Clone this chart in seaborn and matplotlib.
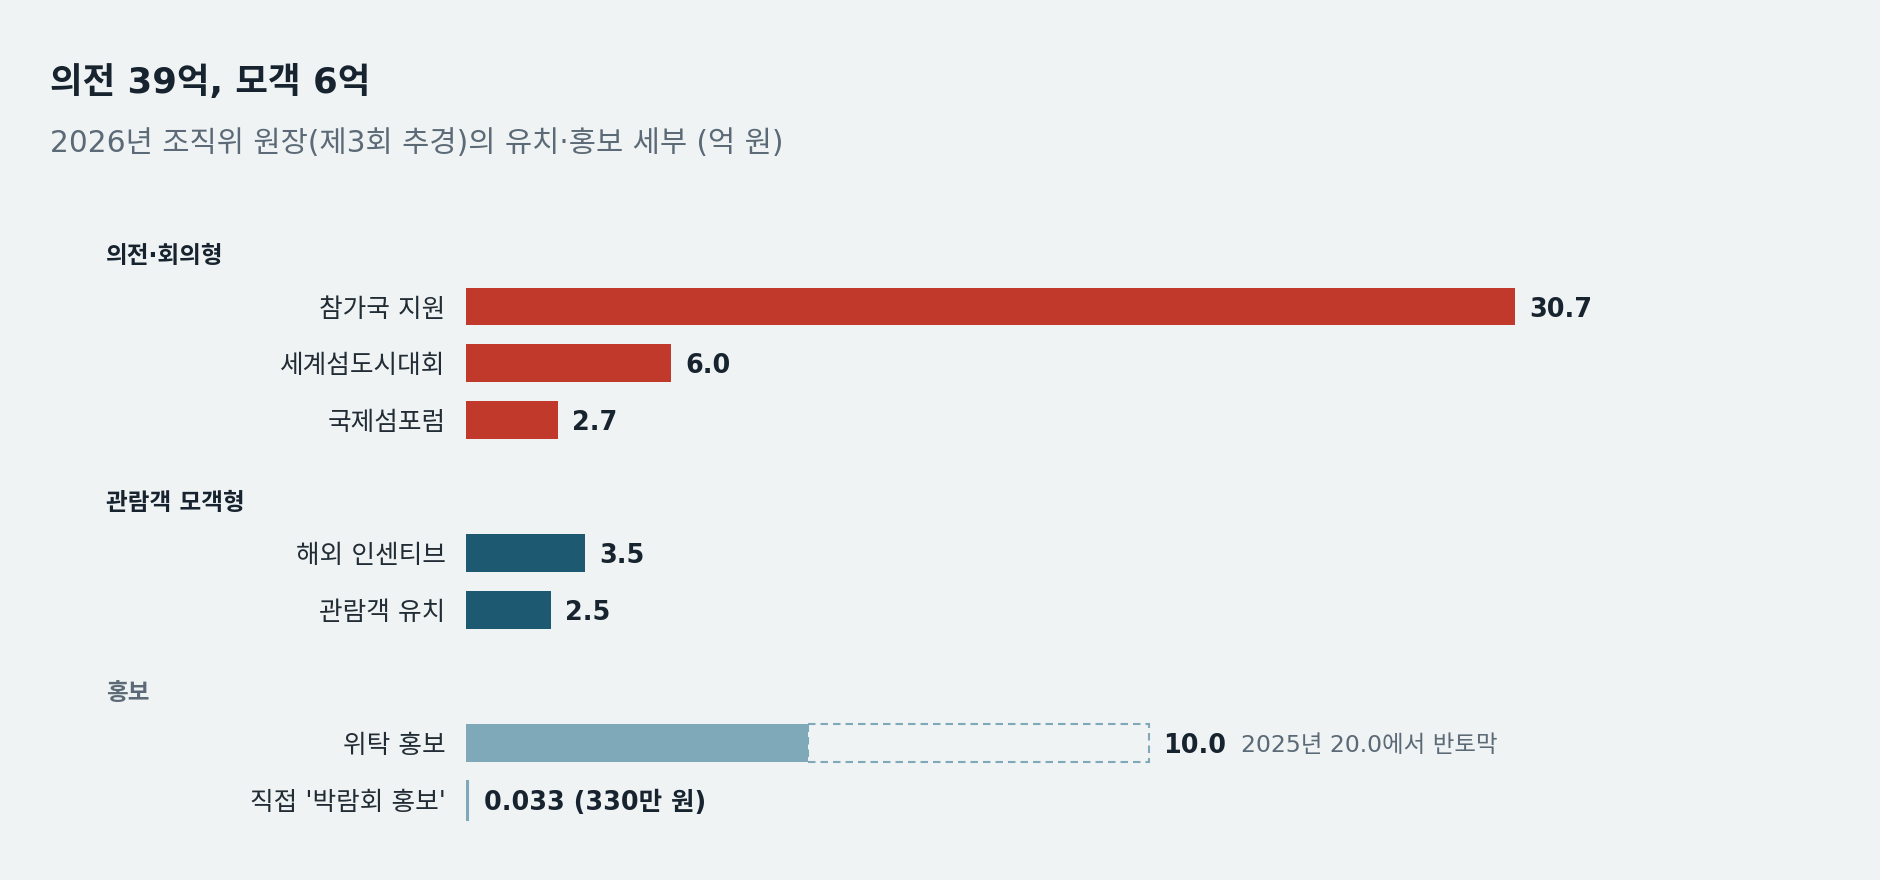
import matplotlib
matplotlib.use("Agg")
import matplotlib.pyplot as plt
import matplotlib.transforms as mtransforms
import seaborn as sns
import pandas as pd

# ---------------- data ----------------
title = "의전 39억, 모객 6억"
subtitle = "2026년 조직위 원장(제3회 추경)의 유치·홍보 세부 (억 원)"

group_names = ["의전·회의형", "관람객 모객형", "홍보"]
labels = ["참가국 지원", "세계섬도시대회", "국제섬포럼",
          "해외 인센티브", "관람객 유치",
          "위탁 홍보", "직접 '박람회 홍보'"]
values = [30.7, 6.0, 2.7, 3.5, 2.5, 10.0, 0.033]
group_index = [0, 0, 0, 1, 1, 2, 2]
value_texts = ["30.7", "6.0", "2.7", "3.5", "2.5", "10.0", "0.033 (330만 원)"]

prev_label = "위탁 홍보"
prev_value = 20.0
prev_note = "2025년 20.0에서 반토막"

# ---------------- style ----------------
BG = "#eff3f4"
DARK = "#17232e"
LABEL = "#222c35"
GRAY = "#5b6a76"
group_colors = {"의전·회의형": "#c0392b", "관람객 모객형": "#1d5a72", "홍보": "#7fa8b8"}
header_colors = [DARK, DARK, GRAY]

sns.set_theme(style="white")
plt.rcParams["font.family"] = ["DejaVu Sans", "Noto Sans CJK KR"]

W, H = 1880, 880
fig = plt.figure(figsize=(W / 100, H / 100), dpi=100, facecolor=BG)

# layout in row units
HEAD_GAP, ROW, GROUP_GAP = 0.93, 1.0, 1.42
cursor = -HEAD_GAP
header_y, bar_y = [], []
for gi, g in enumerate(group_names):
    header_y.append(cursor)
    cursor += HEAD_GAP
    for i, gidx in enumerate(group_index):
        if gidx == gi:
            bar_y.append(cursor)
            cursor += ROW
    cursor = cursor - ROW + GROUP_GAP

x0_px = 465.7
px_per_unit = 34.18
row_px = 56.7
y0_px = 306.5

ax = fig.add_axes([x0_px / W, 0, 1 - x0_px / W, 1])
ax.set_facecolor(BG)

df = pd.DataFrame({
    "pos": bar_y,
    "value": values,
    "group": [group_names[g] for g in group_index],
})

sns.barplot(data=df, x="value", y="pos", hue="group", palette=group_colors,
            orient="h", native_scale=True, dodge=False, width=0.67,
            errorbar=None, legend=False, linewidth=0, saturation=1, ax=ax)

# make the tiny bar visible
TINY_LW = 2.2
for p in ax.patches:
    if p.get_width() < 0.1:
        p.set_edgecolor(p.get_facecolor())
        p.set_linewidth(TINY_LW)

# previous-year dashed outline
pi = labels.index(prev_label)
ax.barh(y=bar_y[pi], width=prev_value - values[pi], left=values[pi], height=0.67,
        facecolor="none", edgecolor=group_colors["홍보"], linewidth=1.5,
        linestyle=(0, (3.6, 2.4)))

ax.set_xlim(0, (W - x0_px) / px_per_unit)
ax.set_ylim((H - y0_px) / row_px, -y0_px / row_px)

for s in ax.spines.values():
    s.set_visible(False)
ax.set_xticks([])
ax.set_xlabel("")
ax.set_ylabel("")
ax.set_yticks(bar_y)
ax.set_yticklabels(labels, fontsize=18.5, color=LABEL)
ax.tick_params(axis="y", length=0, pad=14.4)

# value labels
for i, (v, t, y) in enumerate(zip(values, value_texts, bar_y)):
    end = prev_value if i == pi else v
    extra = TINY_LW if v < 0.1 else 0
    ann = ax.annotate(t, xy=(end, y), xytext=(10.3 + extra, 0), textcoords="offset points",
                      ha="left", va="center_baseline", fontsize=18.4, fontweight="bold",
                      color=DARK)
    if i == pi:
        ax.annotate(prev_note, xy=(1, y), xycoords=(ann, "data"),
                    xytext=(10.5, 0), textcoords="offset points",
                    ha="left", va="center_baseline", fontsize=16.9, color=GRAY)

# group headers
trans = mtransforms.blended_transform_factory(fig.transFigure, ax.transData)
for g, y, c in zip(group_names, header_y, header_colors):
    ax.text(106 / W, y, g, transform=trans, ha="left", va="center_baseline",
            fontsize=17, fontweight="bold", color=c)

# title & subtitle
fig.text(50 / W, 1 - 93 / H, title, ha="left", va="baseline", fontsize=25.5,
         fontweight="bold", color=DARK)
fig.text(50 / W, 1 - 152 / H, subtitle, ha="left", va="baseline", fontsize=21.3,
         color=GRAY)

fig.savefig("out.png", dpi=100, facecolor=BG)
